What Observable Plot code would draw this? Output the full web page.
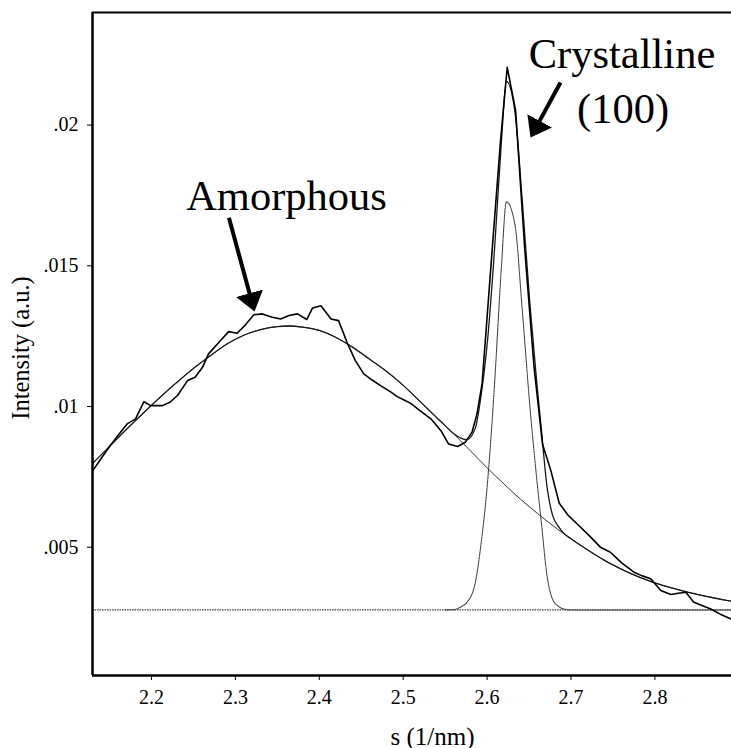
<!DOCTYPE html>
<html>
<head>
<meta charset="utf-8">
<script src="https://cdn.jsdelivr.net/npm/d3@7"></script>
<script src="https://cdn.jsdelivr.net/npm/@observablehq/plot@0.6"></script>
<style>
html, body { margin: 0; padding: 0; background: #fff; overflow: hidden; }
</style>
</head>
<body>
<div id="chart"></div>
<script>
// ---- axes ----
const xDomain = [2.1297, 2.8913];
const yDomain = [0.00044, 0.024];
const xTicks = [2.2, 2.3, 2.4, 2.5, 2.6, 2.7, 2.8];
const yTicks = [0.005, 0.01, 0.015, 0.02];
const xLabel = ["s (1/nm)"];
const yLabel = ["Intensity (a.u.)"];

// ---- measured (raw) intensity ----
const rawS = [2.130, 2.140, 2.150, 2.160, 2.171, 2.181, 2.191, 2.199, 2.213, 2.222,
  2.231, 2.243, 2.252, 2.261, 2.268, 2.281, 2.292, 2.302, 2.312, 2.322,
  2.332, 2.344, 2.354, 2.364, 2.374, 2.385, 2.392, 2.402, 2.414, 2.423,
  2.433, 2.443, 2.453, 2.463, 2.473, 2.485, 2.493, 2.501, 2.509, 2.520,
  2.533, 2.545, 2.554, 2.565, 2.574, 2.582, 2.588, 2.594, 2.600, 2.606,
  2.616, 2.624, 2.634, 2.645, 2.656, 2.666, 2.676, 2.686, 2.697, 2.709,
  2.722, 2.735, 2.747, 2.760, 2.775, 2.785, 2.795, 2.807, 2.819, 2.828,
  2.837, 2.846, 2.856, 2.866, 2.878, 2.890];
const rawI = [0.00772, 0.00815, 0.00858, 0.00897, 0.00938, 0.00956, 0.01017, 0.01003, 0.01003, 0.01015,
  0.01039, 0.01092, 0.01104, 0.01140, 0.01187, 0.01230, 0.01266, 0.01260, 0.01290, 0.01326,
  0.01329, 0.01317, 0.01311, 0.01323, 0.01329, 0.01309, 0.01350, 0.01358, 0.01311, 0.01305,
  0.01228, 0.01163, 0.01116, 0.01094, 0.01074, 0.01052, 0.01035, 0.01023, 0.01011, 0.00985,
  0.00956, 0.00914, 0.00867, 0.00858, 0.00873, 0.00908, 0.00974, 0.01080, 0.01317, 0.01554,
  0.01944, 0.02205, 0.02051, 0.01554, 0.01139, 0.00867, 0.00772, 0.00656, 0.00612, 0.00578,
  0.00540, 0.00500, 0.00482, 0.00445, 0.00411, 0.00398, 0.00388, 0.00346, 0.00332, 0.00336,
  0.00340, 0.00305, 0.00293, 0.00281, 0.00262, 0.00246];

// ---- total fit ----
const fitS = [2.130, 2.150, 2.170, 2.190, 2.210, 2.230, 2.250, 2.270, 2.290, 2.310,
  2.330, 2.350, 2.365, 2.380, 2.400, 2.420, 2.440, 2.460, 2.480, 2.500,
  2.520, 2.540, 2.550, 2.560, 2.570, 2.576, 2.586, 2.592, 2.601, 2.609,
  2.617, 2.623, 2.633, 2.642, 2.651, 2.659, 2.665, 2.671, 2.678, 2.685,
  2.692, 2.700, 2.720, 2.740, 2.760, 2.780, 2.800, 2.820, 2.840, 2.860,
  2.880, 2.891];
const fitI = [0.00798, 0.00858, 0.00918, 0.00976, 0.01032, 0.01085, 0.01135, 0.01180, 0.01222, 0.01253,
  0.01273, 0.01284, 0.01286, 0.01282, 0.01270, 0.01245, 0.01210, 0.01168, 0.01125, 0.01075,
  0.01018, 0.00960, 0.00932, 0.00904, 0.00886, 0.00882, 0.00923, 0.01022, 0.01250, 0.01564,
  0.01938, 0.02155, 0.02051, 0.01728, 0.01366, 0.01093, 0.00909, 0.00725, 0.00614, 0.00574,
  0.00548, 0.00530, 0.00490, 0.00453, 0.00422, 0.00395, 0.00373, 0.00355, 0.00339, 0.00326,
  0.00314, 0.00308];

// ---- amorphous component ----
const amorS = [2.130, 2.150, 2.170, 2.190, 2.210, 2.230, 2.250, 2.270, 2.290, 2.310,
  2.330, 2.350, 2.365, 2.380, 2.400, 2.420, 2.440, 2.460, 2.480, 2.500,
  2.520, 2.540, 2.560, 2.580, 2.600, 2.620, 2.640, 2.660, 2.680, 2.700,
  2.720, 2.740, 2.760, 2.780, 2.800, 2.820, 2.840, 2.860, 2.880, 2.891];
const amorI = [0.00798, 0.00858, 0.00918, 0.00976, 0.01032, 0.01085, 0.01135, 0.01180, 0.01222, 0.01253,
  0.01273, 0.01284, 0.01286, 0.01282, 0.01270, 0.01245, 0.01210, 0.01168, 0.01125, 0.01075,
  0.01018, 0.00960, 0.00903, 0.00843, 0.00782, 0.00725, 0.00670, 0.00620, 0.00573, 0.00530,
  0.00490, 0.00453, 0.00422, 0.00395, 0.00373, 0.00355, 0.00339, 0.00326, 0.00314, 0.00308];

// ---- crystalline (100) component ----
const crysS = [2.550, 2.560, 2.570, 2.576, 2.586, 2.592, 2.601, 2.609, 2.617, 2.623,
  2.633, 2.642, 2.651, 2.659, 2.665, 2.671, 2.678, 2.685, 2.692, 2.700, 2.891];
const crysI = [0.00277, 0.00278, 0.00290, 0.00304, 0.00375, 0.00493, 0.00748, 0.01086, 0.01493, 0.01727,
  0.01650, 0.01340, 0.01001, 0.00748, 0.00578, 0.00408, 0.00315, 0.00290, 0.00280, 0.00277, 0.00277];

// ---- constant background ----
const baseline = [0.00277];

// ---- annotations ----
const noteText = ["Amorphous", "Crystalline", "(100)"];
const noteS = [2.3609, 2.7608, 2.7620];
const noteI = [0.017475, 0.022507, 0.020557];
const arrowS1 = [2.2923, 2.6875];
const arrowI1 = [0.016705, 0.02151];
const arrowS2 = [2.3206, 2.6558];
const arrowI2 = [0.013611, 0.019776];

const zipSV = (S, V) => S.map((s, i) => ({s, v: V[i]}));
const raw = zipSV(rawS, rawI);
const fit = zipSV(fitS, fitI);
const amor = zipSV(amorS, amorI);
const crys = zipSV(crysS, crysI);
const notes = noteText.map((t, i) => ({t, s: noteS[i], v: noteI[i]}));
const arrows = arrowS1.map((s, i) => ({s1: s, v1: arrowI1[i], s2: arrowS2[i], v2: arrowI2[i]}));

const serif = "'Liberation Serif', 'Times New Roman', Times, serif";

const chart = Plot.plot({
  width: 731,
  height: 748,
  marginLeft: 92,
  marginRight: 0,
  marginTop: 12,
  marginBottom: 73,
  style: {fontFamily: serif, fontSize: "20px", background: "#fff", color: "#000", overflow: "visible"},
  x: {domain: xDomain, ticks: xTicks, tickFormat: d3.format(".1f"), tickSize: 5, tickPadding: 9, label: null},
  y: {domain: yDomain, ticks: yTicks, tickFormat: d => String(d).replace(/^0/, ""), tickSize: 5, tickPadding: 9, label: null},
  marks: [
    Plot.ruleY(baseline, {stroke: "#444", strokeWidth: 1.3, strokeDasharray: "1.6,0.9"}),
    Plot.line(crys, {x: "s", y: "v", curve: "monotone-x", stroke: "#444", strokeWidth: 1.1, strokeDasharray: "1.6,0.9", clip: true}),
    Plot.line(amor, {x: "s", y: "v", curve: "monotone-x", stroke: "#333", strokeWidth: 1.0, clip: true}),
    Plot.line(fit, {x: "s", y: "v", curve: "monotone-x", stroke: "#1a1a1a", strokeWidth: 1.3, clip: true}),
    Plot.line(raw, {x: "s", y: "v", stroke: "#000", strokeWidth: 1.6, clip: true}),
    Plot.ruleX([xDomain[0]], {stroke: "#000", strokeWidth: 2.5}),
    Plot.ruleY([yDomain[0]], {stroke: "#000", strokeWidth: 2.5}),
    Plot.ruleY([yDomain[1]], {stroke: "#000", strokeWidth: 2}),
    Plot.link(arrows, {x1: "s1", y1: "v1", x2: "s2", y2: "v2", stroke: "#000", strokeWidth: 4}),
    Plot.text(notes, {x: "s", y: "v", text: "t", fontSize: 42.5, fontFamily: serif, textAnchor: "middle", lineAnchor: "middle", fill: "#000"}),
    Plot.text(yLabel, {frameAnchor: "left", text: d => d, rotate: -90, dx: -71.5, dy: 4, fontSize: 24.5, fontFamily: serif, textAnchor: "middle", lineAnchor: "middle", fill: "#000"}),
    Plot.text(xLabel, {frameAnchor: "bottom", text: d => d, dx: 20.5, dy: 61, fontSize: 25, fontFamily: serif, textAnchor: "middle", lineAnchor: "middle", fill: "#000"})
  ]
});

// tick labels: serif, 20px (inline style so nothing overrides it)
chart.querySelectorAll("text").forEach(t => {
  if (!t.closest('g[aria-label="text"]')) {
    t.style.fontFamily = serif;
    t.style.fontSize = "20px";
    t.style.fontVariant = "normal";
    t.style.fill = "#000";
  }
});

// filled arrow heads for the annotation arrows
const ns = "http://www.w3.org/2000/svg";
const defs = document.createElementNS(ns, "defs");
const marker = document.createElementNS(ns, "marker");
marker.setAttribute("id", "headFill");
marker.setAttribute("viewBox", "0 -15 20 30");
marker.setAttribute("refX", "12");
marker.setAttribute("refY", "0");
marker.setAttribute("markerWidth", "20");
marker.setAttribute("markerHeight", "30");
marker.setAttribute("markerUnits", "userSpaceOnUse");
marker.setAttribute("orient", "auto");
const head = document.createElementNS(ns, "path");
head.setAttribute("d", "M0,-14L19,0L0,14Z");
head.setAttribute("fill", "#000");
head.setAttribute("stroke", "none");
marker.appendChild(head);
defs.appendChild(marker);
chart.insertBefore(defs, chart.firstChild);
chart.querySelectorAll('g[aria-label="link"] path').forEach(p => p.setAttribute("marker-end", "url(#headFill)"));

document.getElementById("chart").appendChild(chart);
</script>
</body>
</html>
